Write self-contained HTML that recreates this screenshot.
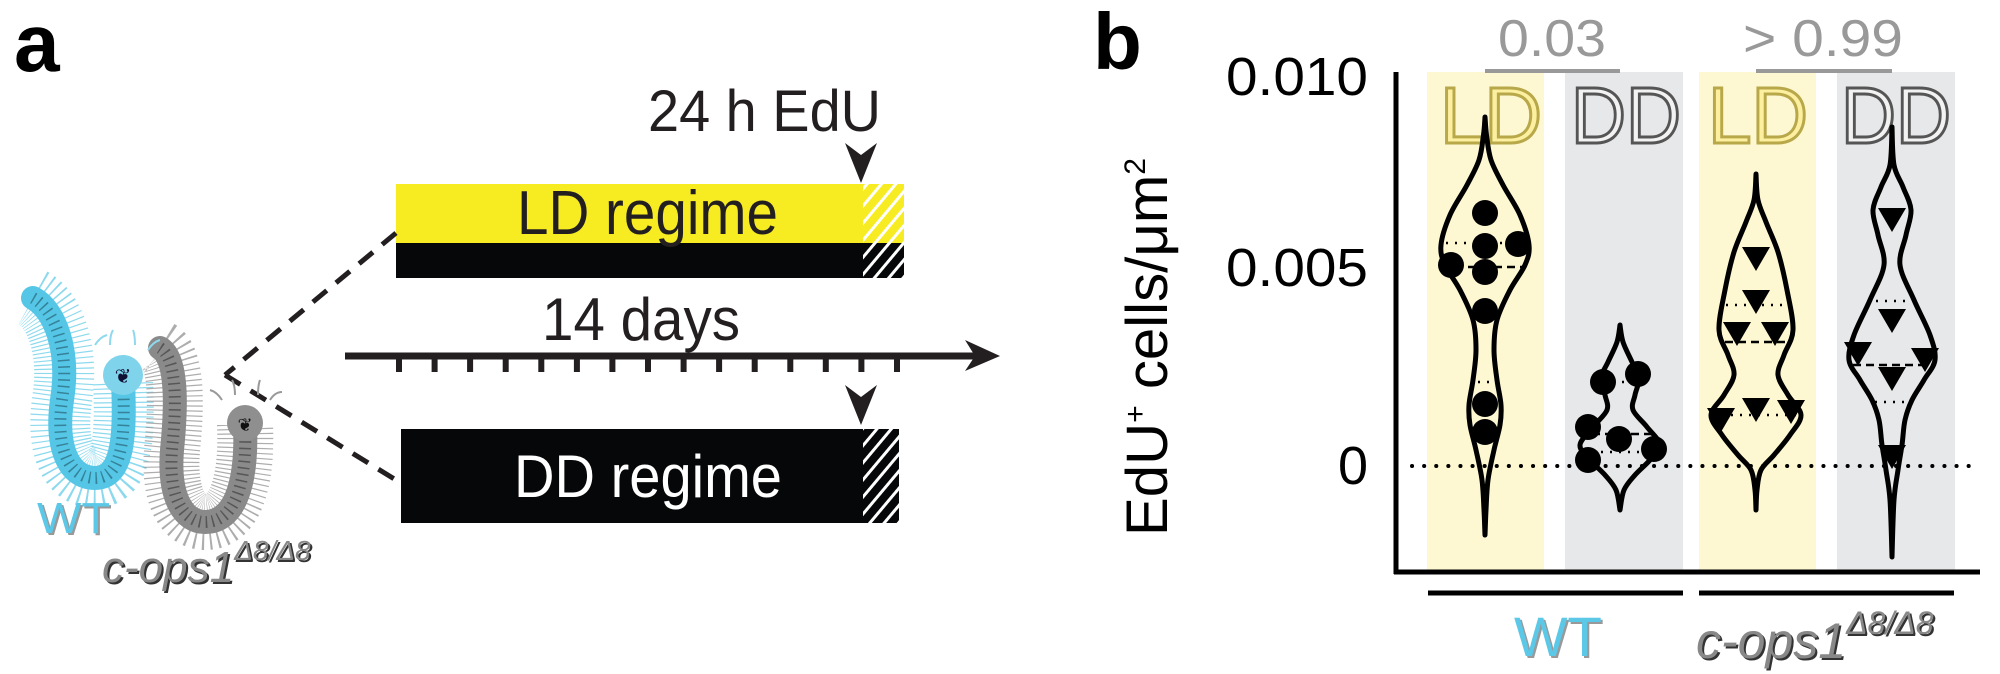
<!DOCTYPE html>
<html><head><meta charset="utf-8"><style>
html,body{margin:0;padding:0;background:#fff;}
svg{display:block;}
text{font-family:"Liberation Sans",Arial,sans-serif;}
</style></head><body>
<svg id="s" width="2000" height="674" viewBox="0 0 2000 674" xmlns="http://www.w3.org/2000/svg">
<defs>
<pattern id="hw" patternUnits="userSpaceOnUse" width="11" height="11" patternTransform="rotate(40)">
<rect x="0" y="0" width="3" height="11" fill="#fff"/>
</pattern>
<clipPath id="c1"><rect x="863" y="184" width="41" height="94"/></clipPath>
<clipPath id="c2"><rect x="863" y="429" width="36" height="94"/></clipPath>
</defs>

<!-- Panel a -->
<text x="14" y="71" font-size="82" font-weight="bold" fill="#000">a</text>
<text x="648" y="131" font-size="58" fill="#231f20" textLength="233" lengthAdjust="spacingAndGlyphs">24 h EdU</text>
<polygon points="845,143 861,155 877,143 861,183" fill="#231f20"/>
<rect x="396" y="184" width="508" height="59" fill="#f7ec22"/>
<rect x="396" y="243" width="508" height="35" fill="#060708"/>
<rect x="863" y="184" width="41" height="94" fill="url(#hw)" clip-path="url(#c1)"/>
<text x="517" y="234" font-size="62" fill="#231f20" textLength="261" lengthAdjust="spacingAndGlyphs">LD regime</text>
<text x="542" y="340" font-size="60" fill="#231f20" textLength="198" lengthAdjust="spacingAndGlyphs">14 days</text>
<line x1="345" y1="356" x2="975" y2="356" stroke="#231f20" stroke-width="7"/>
<polygon points="965,340 1000,356 965,371 975,356" fill="#231f20"/>
<g id="ticks" fill="#231f20"></g>
<polygon points="845,385 861,397 877,385 861,425" fill="#231f20"/>
<rect x="401" y="429" width="498" height="94" fill="#060708"/>
<rect x="863" y="429" width="36" height="94" fill="url(#hw)" clip-path="url(#c2)"/>
<text x="514" y="497" font-size="60" fill="#fff" textLength="268" lengthAdjust="spacingAndGlyphs">DD regime</text>
<line x1="396" y1="233" x2="225" y2="375" stroke="#231f20" stroke-width="5" stroke-dasharray="18 12"/>
<line x1="225" y1="375" x2="396" y2="480" stroke="#231f20" stroke-width="5" stroke-dasharray="18 12"/>

<!-- worms -->
<g fill="none" stroke-linecap="butt">
<path d="M33,298 C55,310 70,350 62,400 C55,450 70,478 95,478 C125,478 125,430 123,380" stroke="#6fcfea" stroke-width="60" stroke-dasharray="1.2 3.5" opacity="0.8"/>
<path d="M33,298 C55,310 70,350 62,400 C55,450 70,478 95,478 C125,478 125,430 123,380" stroke="#55c6e6" stroke-width="24" stroke-linecap="round"/>
<path d="M33,298 C55,310 70,350 62,400 C55,450 70,478 95,478 C125,478 125,430 123,380" stroke="#1f5566" stroke-width="12" stroke-dasharray="1.5 5" opacity="0.6"/>
<path d="M160,348 C180,360 175,420 172,450 C168,500 185,522 205,522 C240,522 247,470 245,425" stroke="#999" stroke-width="56" stroke-dasharray="1.2 3.5" opacity="0.8"/>
<path d="M160,348 C180,360 175,420 172,450 C168,500 185,522 205,522 C240,522 247,470 245,425" stroke="#8a8a8a" stroke-width="24" stroke-linecap="round"/>
<path d="M160,348 C180,360 175,420 172,450 C168,500 185,522 205,522 C240,522 247,470 245,425" stroke="#333" stroke-width="12" stroke-dasharray="1.5 5" opacity="0.6"/>
</g>
<circle cx="123" cy="375" r="20" fill="#7fd3ea"/>
<text x="123" y="383" font-size="20" text-anchor="middle" fill="#113">❦</text>
<circle cx="245" cy="423" r="18" fill="#8f8f8f"/>
<text x="245" y="431" font-size="18" text-anchor="middle" fill="#111">❦</text>
<g stroke="#8fd8ee" stroke-width="2" fill="none">
<path d="M95,345 q5,-8 12,-10 M110,345 q0,-10 3,-15 M135,345 q0,-10 -2,-15 M148,350 q5,-8 12,-10"/>
</g>
<g stroke="#999" stroke-width="2" fill="none">
<path d="M222,400 q-5,-8 -12,-10 M235,395 q0,-10 -3,-15 M258,395 q0,-10 2,-15 M270,400 q5,-8 12,-8"/>
</g>
<text x="39" y="535" font-size="44" fill="#999" textLength="73" lengthAdjust="spacingAndGlyphs">WT</text>
<text x="37" y="533" font-size="44" fill="#5bc8e8" textLength="73" lengthAdjust="spacingAndGlyphs">WT</text>
<text x="104" y="584" font-size="44" font-style="italic" fill="#333">c-ops1<tspan font-size="28" dy="-22">Δ8/Δ8</tspan></text>
<text x="102" y="582" font-size="44" font-style="italic" fill="#888">c-ops1<tspan font-size="28" dy="-22">Δ8/Δ8</tspan></text>

<!-- Panel b -->
<text x="1093" y="69" font-size="80" font-weight="bold" fill="#000">b</text>
<rect x="1427" y="72" width="117" height="500" fill="#fdf8d2"/>
<rect x="1565" y="72" width="118" height="500" fill="#e7e8ea"/>
<rect x="1699" y="72" width="117" height="500" fill="#fdf8d2"/>
<rect x="1837" y="72" width="118" height="500" fill="#e7e8ea"/>
<line x1="1485" y1="71" x2="1620" y2="71" stroke="#999" stroke-width="4"/>
<line x1="1756" y1="71" x2="1892" y2="71" stroke="#999" stroke-width="4"/>
<text x="1498" y="56" font-size="52" fill="#999" textLength="108" lengthAdjust="spacingAndGlyphs">0.03</text>
<text x="1743" y="56" font-size="52" fill="#999" textLength="160" lengthAdjust="spacingAndGlyphs">&gt; 0.99</text>
<g font-size="80" stroke-width="3">
<text x="1440" y="143" fill="#fcf0a0" stroke="#b8a84a" textLength="102" lengthAdjust="spacingAndGlyphs">LD</text>
<text x="1571" y="143" fill="#f2f2f3" stroke="#555" textLength="110" lengthAdjust="spacingAndGlyphs">DD</text>
<text x="1708" y="143" fill="#fcf0a0" stroke="#b8a84a" textLength="100" lengthAdjust="spacingAndGlyphs">LD</text>
<text x="1841" y="143" fill="#f2f2f3" stroke="#555" textLength="110" lengthAdjust="spacingAndGlyphs">DD</text>
</g>
<line x1="1396" y1="72" x2="1396" y2="574" stroke="#000" stroke-width="5"/>
<line x1="1394" y1="572" x2="1980" y2="572" stroke="#000" stroke-width="5"/>
<g font-size="54" text-anchor="end" fill="#000">
<text x="1368" y="95" textLength="142" lengthAdjust="spacingAndGlyphs">0.010</text>
<text x="1368" y="286" textLength="142" lengthAdjust="spacingAndGlyphs">0.005</text>
<text x="1368" y="484">0</text>
</g>
<text transform="translate(1167,536) rotate(-90)" font-size="58" fill="#000" textLength="378" lengthAdjust="spacingAndGlyphs">EdU<tspan font-size="30" dy="-22">+</tspan><tspan dy="22"> cells/μm</tspan><tspan font-size="30" dy="-22">2</tspan></text>
<line x1="1412" y1="466" x2="1980" y2="466" stroke="#000" stroke-width="4" stroke-dasharray="0.1 12" stroke-linecap="round"/>
<g id="vio" fill="none" stroke="#000" stroke-width="5" stroke-linejoin="round"></g>
<g id="pts" fill="#000"></g>
<line x1="1428" y1="593" x2="1683" y2="593" stroke="#000" stroke-width="5"/>
<line x1="1699" y1="593" x2="1954" y2="593" stroke="#000" stroke-width="5"/>
<text x="1516" y="658" font-size="56" fill="#999" textLength="88" lengthAdjust="spacingAndGlyphs">WT</text>
<text x="1514" y="656" font-size="56" fill="#5bc8e8" textLength="88" lengthAdjust="spacingAndGlyphs">WT</text>
<text x="1698" y="660" font-size="50" font-style="italic" fill="#333">c-ops1<tspan font-size="32" dy="-24">Δ8/Δ8</tspan></text>
<text x="1696" y="658" font-size="50" font-style="italic" fill="#888">c-ops1<tspan font-size="32" dy="-24">Δ8/Δ8</tspan></text>
</svg>
<script>
var NS="http://www.w3.org/2000/svg";
function el(t,a,p){var e=document.createElementNS(NS,t);for(var k in a)e.setAttribute(k,a[k]);p.appendChild(e);return e;}
var tk=document.getElementById('ticks');
for(var i=0;i<15;i++){el('rect',{x:(399+i*35.57-3).toFixed(1),y:356,width:6,height:16},tk);}
function cr(P){var d="M"+P[0][0]+","+P[0][1];for(var i=0;i<P.length-1;i++){var p0=P[i-1]||P[i],p1=P[i],p2=P[i+1],p3=P[i+2]||P[i+1];
d+=" C"+(p1[0]+(p2[0]-p0[0])/6).toFixed(1)+","+(p1[1]+(p2[1]-p0[1])/6).toFixed(1)+" "+(p2[0]-(p3[0]-p1[0])/6).toFixed(1)+","+(p2[1]-(p3[1]-p1[1])/6).toFixed(1)+" "+p2[0]+","+p2[1];}return d;}
var V=[
[1485,[[117,0],[135,1.5],[160,6],[185,18],[215,35],[245,44],[265,40],[290,25],[320,12],[350,9],[380,12],[405,16],[425,15],[450,9],[480,3],[510,1],[535,0]]],
[1620,[[325,0],[342,3],[362,12],[378,19],[395,15],[410,13],[427,27],[445,40],[460,30],[475,15],[490,4],[510,0]]],
[1756,[[174,0],[200,2],[222,10],[252,22],[290,31],[330,37],[355,28],[375,22],[395,32],[415,45],[435,34],[455,18],[470,5],[490,1],[510,0]]],
[1892,[[127,0],[165,2],[187,11],[210,19],[235,14],[265,8],[300,22],[335,38],[360,43],[380,32],[400,20],[420,13],[445,10],[470,6],[500,2],[557,0]]]
];
var vg=document.getElementById('vio');
V.forEach(function(v){var cx=v[0],pr=v[1];var R=pr.map(function(q){return[+(cx+q[1]).toFixed(1),q[0]];});var L=pr.slice().reverse().map(function(q){return[+(cx-q[1]).toFixed(1),q[0]];});
el('path',{d:cr(R)+" L"+L[0][0]+","+L[0][1]+" "+cr(L).slice(1).replace(/^[^C]*/,'')+"Z"},vg);});
var pg=document.getElementById('pts');
function ln(x1,x2,y,da){el('line',{x1:x1,x2:x2,y1:y,y2:y,stroke:'#000','stroke-width':2.5,'stroke-dasharray':da},pg);}
ln(1446,1524,243,'2 7');ln(1442,1526,267,'8 5');ln(1478,1492,382,'2 7');
ln(1604,1636,382,'2 7');ln(1592,1655,434,'8 5');ln(1592,1652,452,'2 7');
ln(1726,1790,305,'2 7');ln(1725,1790,342,'8 5');ln(1713,1798,415,'2 7');
ln(1876,1910,301,'2 7');ln(1853,1932,365,'8 5');ln(1875,1910,402,'2 7');
[[1485,213],[1485,246],[1518,244],[1451,265],[1485,272],[1485,311],[1485,404],[1485,432],
[1603,382],[1638,374],[1588,427],[1619,439],[1654,449],[1588,460]].forEach(function(c){el('circle',{cx:c[0],cy:c[1],r:13},pg);});
[[1756,258],[1756,301],[1737,333],[1775,333],[1756,409],[1721,419],[1791,411],
[1892,219],[1892,320],[1858,353],[1925,359],[1892,378],[1892,456]].forEach(function(c){var x=c[0],y=c[1];
el('polygon',{points:(x-14)+","+(y-11)+" "+(x+14)+","+(y-11)+" "+x+","+(y+13)},pg);});
</script>
</body></html>
